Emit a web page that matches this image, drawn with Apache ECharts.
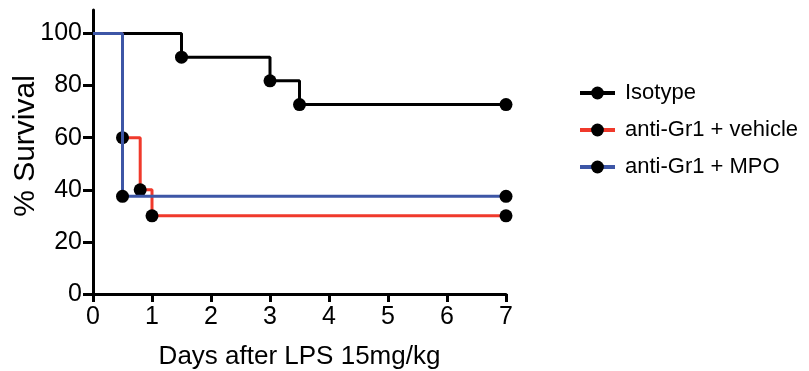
<!DOCTYPE html>
<html>
<head>
<meta charset="utf-8">
<script src="https://cdn.jsdelivr.net/npm/echarts@6/dist/echarts.min.js"></script>
<style>
  html, body { margin: 0; padding: 0; background: #fff; }
  #chart { width: 809px; height: 371px; }
</style>
</head>
<body>
<div id="chart"></div>
<script>
// survival data (days, % survival) — first point is the start at 100%
var isotypeDays = [0, 1.5, 3, 3.5, 7];
var isotypeSurv = [100, 90.9, 81.8, 72.7, 72.7];
var vehicleDays = [0, 0.5, 0.8, 1, 7];
var vehicleSurv = [100, 60, 40, 30, 30];
var mpoDays = [0, 0.5, 7];
var mpoSurv = [100, 37.5, 37.5];
var seriesNames = ["Isotype", "anti-Gr1 + vehicle", "anti-Gr1 + MPO"];
var lineColors = ["#000000", "#f0392b", "#3d56a6"];
var xTicks = [0, 1, 2, 3, 4, 5, 6, 7];
var yTicks = [0, 20, 40, 60, 80, 100];

var font = "Liberation Sans";

function pairs(xs, ys) {
  return xs.map(function (x, i) {
    var d = { value: [x, ys[i]] };
    if (i === 0) d.symbol = "none"; // no marker at start
    return d;
  });
}

var chart = echarts.init(document.getElementById("chart"));

var allData = [
  pairs(isotypeDays, isotypeSurv),
  pairs(vehicleDays, vehicleSurv),
  pairs(mpoDays, mpoSurv)
];

var series = allData.map(function (d, i) {
  return {
    name: seriesNames[i],
    type: "line",
    step: "end",
    data: d,
    symbol: "circle",
    symbolSize: 13,
    showAllSymbol: true,
    itemStyle: { color: "#000" },
    lineStyle: { color: lineColors[i], width: 3 },
    z: 2 + i,
    animation: false
  };
});

var option = {
  animation: false,
  grid: { left: 93, right: 303, top: 10, bottom: 77, outerBoundsMode: "none", containLabel: false },
  legend: {
    left: 573,
    top: 77,
    orient: "vertical",
    itemWidth: 35,
    itemHeight: 16,
    itemGap: 15,
    data: seriesNames,
    lineStyle: { width: 4 },
    textStyle: { fontFamily: font, fontSize: 22, color: "#000", padding: [0, 0, 0, 5], lineHeight: 22 }
  },
  xAxis: {
    type: "value",
    min: 0,
    max: 7,
    interval: 1,
    name: "Days after LPS 15mg/kg",
    nameLocation: "middle",
    nameGap: 50,
    nameMoveOverlap: false,
    nameTextStyle: { fontFamily: font, fontSize: 26, color: "#000" },
    splitLine: { show: false },
    axisLine: { lineStyle: { color: "#000", width: 3 } },
    axisTick: { inside: false, length: 8, lineStyle: { color: "#000", width: 3 }, customValues: xTicks },
    axisLabel: { fontFamily: font, fontSize: 25, color: "#000", margin: 11, customValues: xTicks }
  },
  yAxis: {
    type: "value",
    min: 0,
    max: 109,
    name: "% Survival",
    nameLocation: "middle",
    nameGap: 52,
    nameMoveOverlap: false,
    nameRotate: 90,
    nameTextStyle: { fontFamily: font, fontSize: 30, color: "#000", padding: [0, 0, 0, 12] },
    splitLine: { show: false },
    axisLine: { show: true, lineStyle: { color: "#000", width: 3 } },
    axisTick: { show: true, inside: false, length: 10, lineStyle: { color: "#000", width: 3 }, customValues: yTicks },
    axisLabel: { fontFamily: font, fontSize: 25, color: "#000", margin: 11, customValues: yTicks }
  },
  series: series
};

chart.setOption(option);
window.addEventListener("resize", function () {
  chart.resize();
});
</script>
</body>
</html>
